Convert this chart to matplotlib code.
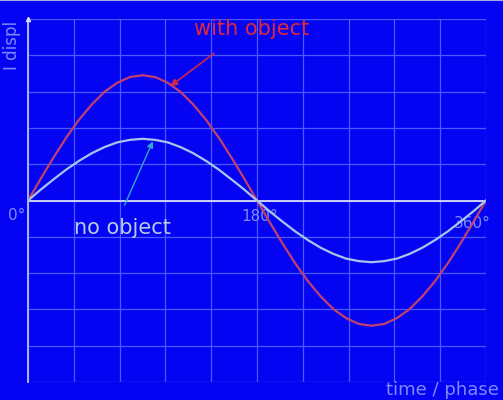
import matplotlib
matplotlib.use("Agg")
import matplotlib.pyplot as plt
from matplotlib.lines import Line2D

# phase in degrees (sampled every 10 deg)
phase = list(range(0, 361, 10))
with_object = [0, 0.60, 1.18, 1.73, 2.22, 2.64, 2.99, 3.24, 3.40, 3.45, 3.40, 3.24, 2.99, 2.64, 2.22, 1.73, 1.18, 0.60, 0,
               -0.60, -1.18, -1.73, -2.22, -2.64, -2.99, -3.24, -3.40, -3.45, -3.40, -3.24, -2.99, -2.64, -2.22, -1.73, -1.18, -0.60, 0]
no_object = [0, 0.30, 0.58, 0.85, 1.09, 1.30, 1.47, 1.60, 1.67, 1.70, 1.67, 1.60, 1.47, 1.30, 1.09, 0.85, 0.58, 0.30, 0,
             -0.30, -0.58, -0.85, -1.09, -1.30, -1.47, -1.60, -1.67, -1.70, -1.67, -1.60, -1.47, -1.30, -1.09, -0.85, -0.58, -0.30, 0]
x_ticks = [0, 180, 360]
x_tick_labels = ["0°", "180°", "360°"]

BG = "#0404F2"
FONT = "DejaVu Sans"
fig = plt.figure(figsize=(5.03, 4.0), dpi=100, facecolor=BG)
ax = fig.add_axes([28/503, 1-382/400, (486-28)/503, (382-19)/400])
ax.set_facecolor(BG)
ax.set_xlim(0, 360)
ax.set_ylim(-5, 5)
for s in ax.spines.values():
    s.set_visible(False)
ax.set_xticks([])
ax.set_yticks([])
for gx in range(0, 361, 36):
    ax.axvline(gx, color="#4A5AFF", lw=0.9, zorder=1)
for gy in range(-5, 6):
    ax.axhline(gy, color="#4A5AFF", lw=0.9, zorder=1)

ax.axhline(0, color="#D8DCF8", lw=1.3, zorder=2)
ax.plot([0, 0], [-5, 5], color="#B8C0FF", lw=1.3, zorder=2, clip_on=False)
ax.plot([0], [5], marker="^", color="#D8DCF8", ms=3, clip_on=False, zorder=3)

ax.plot(phase, with_object, color="#C2406E", lw=1.6, zorder=4)
ax.plot(phase, no_object, color="#A8C4E8", lw=1.6, zorder=4)

# labels
ax.text(176, 4.72, "with object", color="#E0283A", fontsize=15, ha="center", va="center", family=FONT)
ax.annotate("", xy=(110, 3.1), xytext=(148, 4.1),
            arrowprops=dict(arrowstyle="-|>", mutation_scale=10, color="#D02848", lw=1.2))
ax.text(74, -0.75, "no object", color="#B8CCE4", fontsize=15, ha="center", va="center", family=FONT)
ax.annotate("", xy=(99, 1.7), xytext=(75, -0.2),
            arrowprops=dict(arrowstyle="-|>", mutation_scale=9, color="#30A8C8", lw=1.0))

ax.text(-9, -0.4, x_tick_labels[0], color="#7A8CFF", fontsize=11, ha="center", va="center", family=FONT)
ax.text(182, -0.45, x_tick_labels[1], color="#7A8CFF", fontsize=11, ha="center", va="center", family=FONT)
ax.text(349, -0.62, x_tick_labels[2], color="#7A8CFF", fontsize=11, ha="center", va="center", family=FONT)

fig.text(499/503, 1-390/400, "time / phase", color="#7A8CFF", fontsize=13, ha="right", va="center", family=FONT)
fig.text(12/503, 1-45/400, "I displ", color="#7A8CFF", fontsize=12, ha="center", va="center", rotation=90, family=FONT)

fig.add_artist(Line2D([0, 1], [0.999, 0.999], transform=fig.transFigure, color="#C8CCD8", lw=1.2))

fig.savefig("out.png", dpi=100, facecolor=BG)
